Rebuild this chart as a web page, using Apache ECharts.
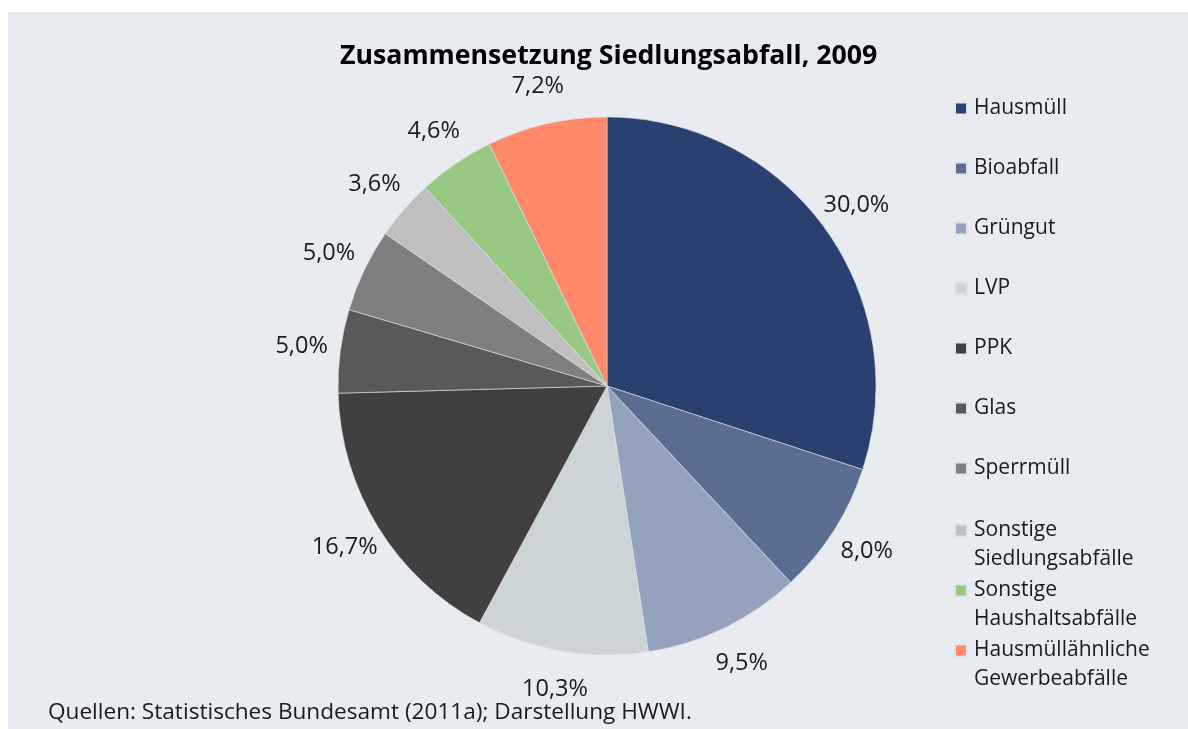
<!DOCTYPE html>
<html>
<head>
<meta charset="utf-8">
<script src="https://cdn.jsdelivr.net/npm/echarts@6/dist/echarts.min.js"></script>
<style>
  html, body { margin: 0; padding: 0; background: #ffffff; }
  #chart_main { position: absolute; left: 8px; top: 12px; width: 1180px; height: 717px; }
</style>
</head>
<body>
<div id="chart_main"></div>
<script>
// Anteile in Prozent, im Uhrzeigersinn ab 12 Uhr
const categories = ['Hausmüll', 'Bioabfall', 'Grüngut', 'LVP', 'PPK', 'Glas', 'Sperrmüll',
  'Sonstige\nSiedlungsabfälle', 'Sonstige\nHaushaltsabfälle', 'Hausmüllähnliche\nGewerbeabfälle'];
const shares = [30.0, 8.0, 9.5, 10.3, 16.7, 5.0, 5.0, 3.6, 4.6, 7.2];
const colors = ['#2a4070', '#5b6d90', '#95a2bd', '#cdd4d6', '#404040', '#595959', '#7f7f7f',
  '#bfbfbf', '#97c983', '#ff8969'];

const font = '"Open Sans", "Noto Sans", sans-serif';
const fmt = (v) => v.toFixed(1).replace('.', ',') + '%';

const pieData = categories.map((name, i) => ({
  name,
  value: shares[i],
  itemStyle: { color: colors[i] }
}));

// einzeilige Eintraege in einer Legende, zweizeilige je eine eigene
const singleNames = categories.filter((n) => n.indexOf('\n') < 0);
const doubleNames = categories.filter((n) => n.indexOf('\n') >= 0);

const legendBase = {
  orient: 'vertical',
  left: 946,
  padding: 0,
  icon: 'rect',
  itemWidth: 12,
  itemHeight: 12,
  selectedMode: false
};
const legendText = {
  fontFamily: font, fontSize: 21, color: '#1a1a1a',
  lineHeight: 29, padding: [0, 0, 0, 2]
};

const legends = [
  Object.assign({}, legendBase, {
    top: 82,
    itemGap: 31,
    data: singleNames,
    textStyle: Object.assign({ height: 29 }, legendText)
  })
];
doubleNames.forEach((name, i) => {
  legends.push(Object.assign({}, legendBase, {
    top: 475 + i * 60,
    data: [name],
    // Leerzeile davor, damit das Symbol auf Hoehe der ersten Zeile steht
    formatter: (n) => '\n' + n,
    textStyle: legendText
  }));
});

const myChart = echarts.init(document.getElementById('chart_main'));
const option = {
  backgroundColor: '#e8ebf0',
  animation: false,
  title: {
    text: 'Zusammensetzung Siedlungsabfall, 2009',
    left: 332,
    top: 31,
    padding: 0,
    textStyle: { fontFamily: font, fontSize: 26.7, fontWeight: 'bold', color: '#000' }
  },
  legend: legends,
  graphic: [{
    type: 'text',
    x: 40,
    y: 701,
    style: {
      text: 'Quellen: Statistisches Bundesamt (2011a); Darstellung HWWI.',
      font: '22.6px ' + font,
      fill: '#1a1a1a',
      verticalAlign: 'middle'
    }
  }],
  series: [
    {
      // Torte
      type: 'pie',
      center: [599, 374],
      radius: [0, 269],
      startAngle: 90,
      clockwise: true,
      silent: true,
      label: { show: false },
      labelLine: { show: false },
      itemStyle: { borderColor: '#e0e3e8', borderWidth: 0.6 },
      data: pieData
    },
    {
      // unsichtbarer Ring nur fuer die Beschriftung
      type: 'pie',
      center: [599, 374],
      radius: [269, 341],
      startAngle: 90,
      clockwise: true,
      silent: true,
      avoidLabelOverlap: false,
      itemStyle: { color: 'rgba(0,0,0,0)', borderWidth: 0 },
      label: {
        show: true,
        position: 'inside',
        fontFamily: font,
        fontSize: 23.5,
        color: '#1a1a1a',
        formatter: (p) => fmt(p.value)
      },
      labelLine: { show: false },
      data: pieData.map((d) => ({ name: d.name, value: d.value }))
    }
  ]
};
myChart.setOption(option);
</script>
</body>
</html>
